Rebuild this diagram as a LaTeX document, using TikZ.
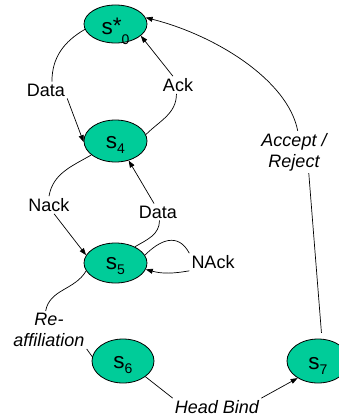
\documentclass[tikz,border=0pt]{standalone}
\usepackage{fontspec}
\setmainfont{Liberation Sans}
\usetikzlibrary{shapes.geometric,arrows.meta}
\definecolor{stfill}{HTML}{00CC99}
\newcommand\ssub[1]{\raisebox{-5pt}{\fontsize{14}{14}\selectfont #1}}
\begin{document}
\begin{tikzpicture}[x=1pt,y=-1pt,
  st/.style={ellipse,draw=black,line width=0.8pt,fill=stfill,minimum width=63pt,minimum height=42pt,inner sep=0pt,text height=14.7pt,text depth=0pt,font=\fontsize{22.5}{24}\selectfont},
  lab/.style={inner sep=2pt,font=\fontsize{18}{21}\selectfont,align=center},
  ilab/.style={lab,font=\fontsize{18}{21}\selectfont\itshape},
  ln/.style={line width=0.7pt},
  arr/.style={ln,-{Triangle[length=7pt,width=5pt]}}]
\useasboundingbox (0,0) rectangle (338,420);
% states
\node[st,minimum height=38pt,text height=21.7pt] (s0) at (115.5,24) {s\raisebox{1pt}{*}\raisebox{-10pt}{\fontsize{14}{14}\selectfont 0}};
\node[st] (s4) at (115.5,141) {s\ssub{4}};
\node[st,minimum height=40pt,text height=13.3pt] (s5) at (115.5,263) {s\ssub{5}};
\node[st,minimum width=62pt,minimum height=44pt] (s6) at (123,361) {s\ssub{6}};
\node[st,minimum width=62pt,minimum height=44pt,text height=17.7pt] (s7) at (318,361) {s\ssub{7}};
% labels
\node[lab] (ldata1) at (46,90) {Data};
\node[lab] (lack) at (178,85) {Ack};
\node[ilab] (lacc) at (294,152) {Accept /\\Reject};
\node[lab] (lnack) at (49,205) {Nack};
\node[lab] (ldata2) at (158,212) {Data};
\node[lab] (lnack2) at (213,262) {NAck};
\node[ilab] (lre) at (49,330) {Re-\\affiliation};
\node[ilab] (lhb) at (217,407) {Head Bind};
% connectors
\draw[ln] (s0.190) to[out=210,in=90] (ldata1.55);
\draw[arr] (ldata1.south east) -- (s4.182);
\draw[ln] (s4.12) to[out=45,in=-90] (lack.-100);
\draw[arr] (lack.120) -- (s0.-25);
\draw[ln,shorten <=6pt] (s7.80) -- (lacc.-55);
\draw[arr] (lacc.80) .. controls (288,80) and (215,35) .. (s0.12);
\draw[ln] (s4.-150) to[out=-150,in=80] (lnack.north);
\draw[arr] (lnack.-60) -- (s5.165);
\draw[ln] (s5.40) to[out=30,in=-90] (ldata2.-80);
\draw[arr] (ldata2.115) -- (s4.-56);
\draw[ln] (s5.15) .. controls (160,240) and (178,232) .. (lnack2.north west);
\draw[arr] (lnack2.south west) to[out=190,in=-15] (s5.-12);
\draw[ln] (s5.-165) to[out=-120,in=80] (lre.100);
\draw[ln] (lre.south east) -- (s6.172);
\draw[ln] (s6.-35) -- (lhb.north west);
\draw[arr] (lhb.north east) -- (s7.-140);
\end{tikzpicture}
\end{document}
